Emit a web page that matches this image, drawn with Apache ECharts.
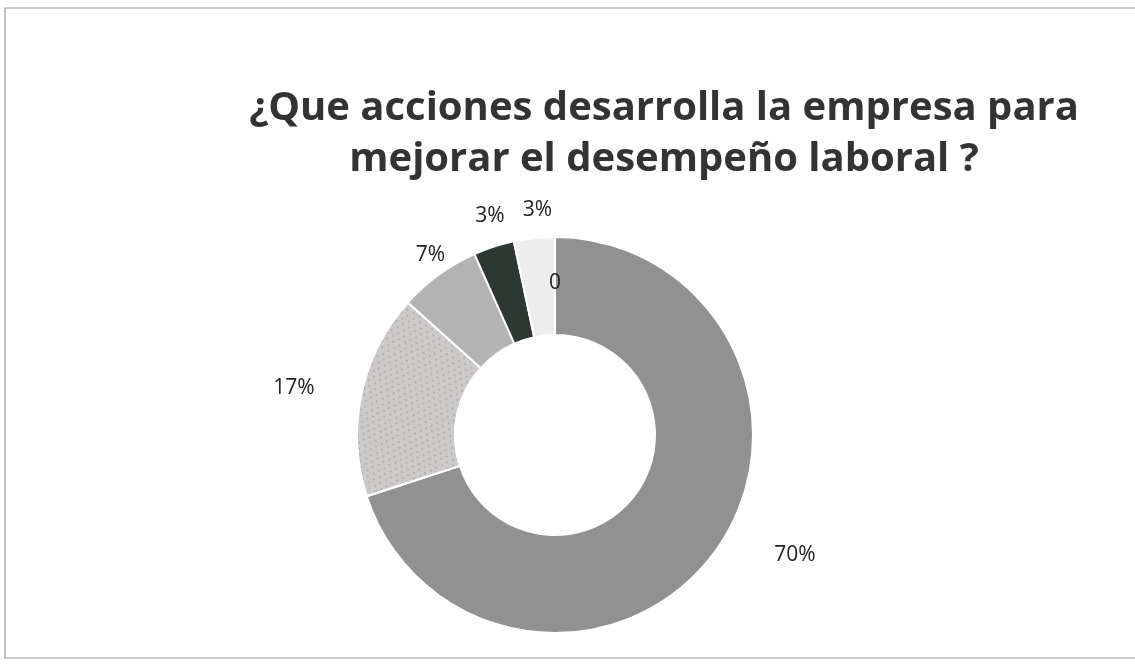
<!DOCTYPE html>
<html><head><meta charset="utf-8">
<script src="https://cdn.jsdelivr.net/npm/echarts@6/dist/echarts.min.js"></script>
<style>html,body{margin:0;padding:0;background:#fff}#c{width:1135px;height:666px}</style>
</head><body><div id="c"></div>
<script>
const titleLines = ['¿Que acciones desarrolla la empresa para', 'mejorar el desempeño laboral ?'];
const categories = ['Cero', 'A', 'B', 'C', 'D', 'E'];
const values = [0, 21, 5, 2, 1, 1];
const labelTexts = ['0', '70%', '17%', '7%', '3%', '3%'];
const colors = ['#919191', '#919191', '#cfcaca', '#b3b3b3', '#2e3833', '#eeeeee'];
const lineLen = [0, 6, 29, 24, 32, 28];
const lineLen2 = [0, 81, 45, 0, 0, 0];

const chart = echarts.init(document.getElementById('c'));
const data = categories.map((n, i) => {
  const item = {
    name: n, value: values[i],
    itemStyle: { color: colors[i] },
    label: { formatter: labelTexts[i] },
    labelLine: { length: lineLen[i], length2: lineLen2[i], show: false }
  };
  if (i === 0) item.label.position = 'inside';
  if (i === 2) item.itemStyle.decal = {
    symbol: 'circle', symbolSize: 0.6, color: 'rgba(120,115,115,0.45)',
    dashArrayX: [[4, 3], [0, 3, 4, 0]], dashArrayY: [3, 2], rotation: 0.5
  };
  return item;
});
chart.setOption({
  animation: false,
  title: {
    text: titleLines.join('\n'), left: 659, top: 78, textAlign: 'center',
    textStyle: { fontFamily: 'Open Sans', fontWeight: 'bold', fontSize: 40, color: '#333333', lineHeight: 51 }
  },
  graphic: [{ type: 'rect', shape: { x: 5, y: 8, width: 1135, height: 650 }, style: { fill: 'none', stroke: '#9a9a9a', lineWidth: 1.2 } }],
  series: [{
    type: 'pie', center: [555, 435], radius: [100, 198], startAngle: 90, clockwise: true,
    avoidLabelOverlap: false, minShowLabelAngle: -1,
    itemStyle: { borderColor: '#ffffff', borderWidth: 2 },
    label: { show: true, position: 'outside', fontFamily: 'Open Sans', fontSize: 21, color: '#222222', distanceToLabelLine: -6 },
    labelLayout: function () { return { align: 'center', verticalAlign: 'middle' }; },
    data: data
  }]
});
</script></body></html>
